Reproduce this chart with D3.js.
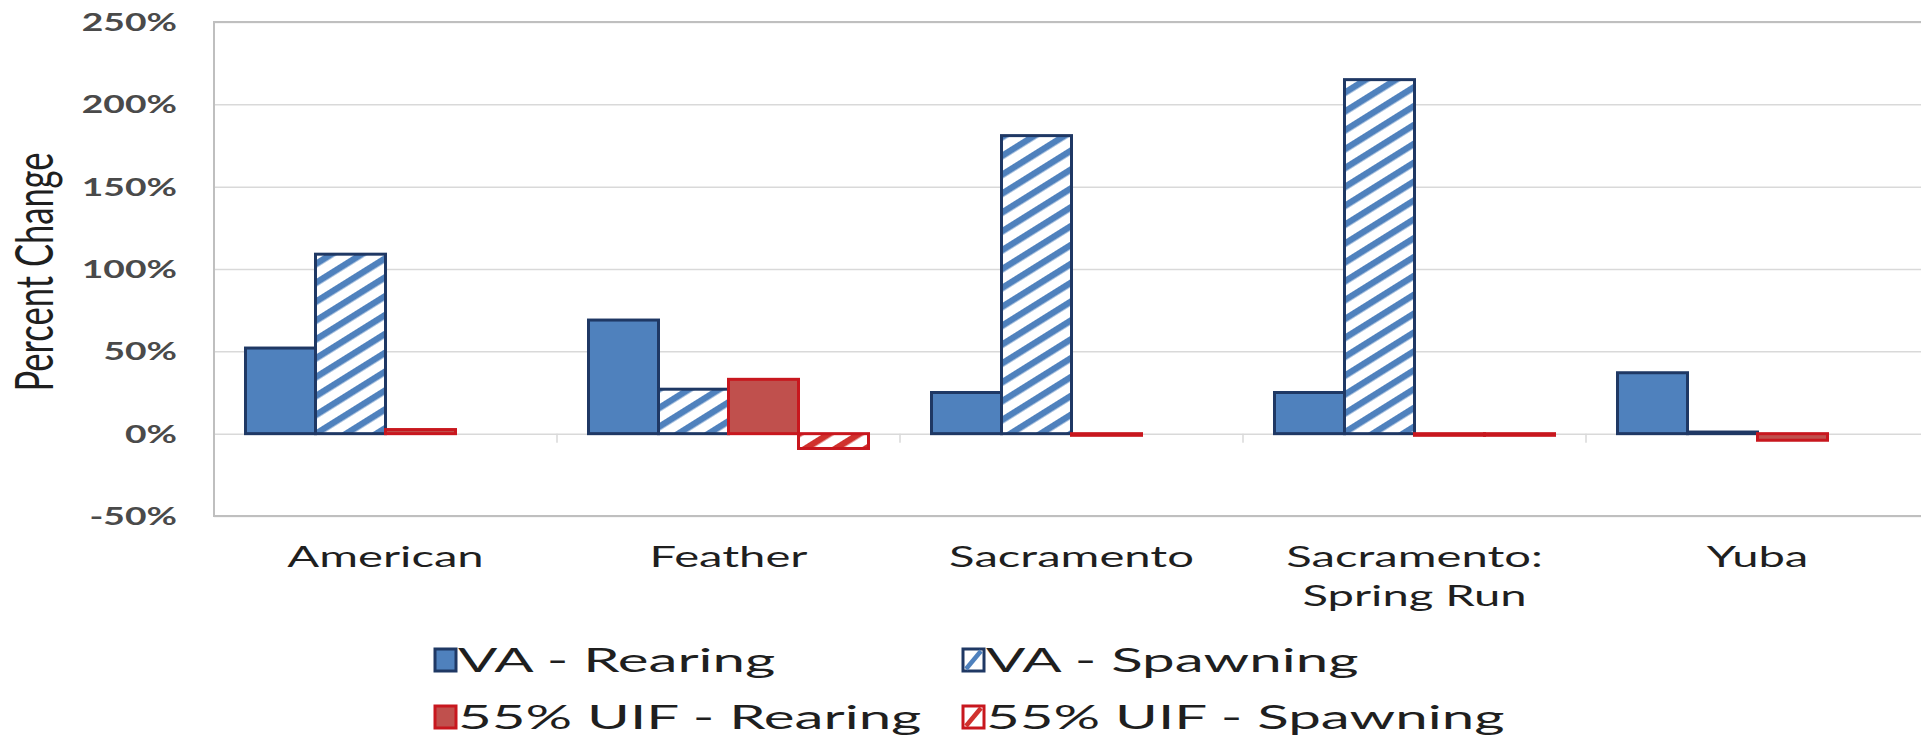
<!DOCTYPE html>
<html>
<head>
<meta charset="utf-8">
<script src="https://cdn.jsdelivr.net/npm/d3@7"></script>
<style>
  html, body { margin: 0; padding: 0; background: #fff; overflow: hidden; }
  text { font-family: Lato, "Open Sans", sans-serif; }
</style>
</head>
<body>
<div id="chart"></div>
<script>
// percent change per river
const rivers = ["American", "Feather", "Sacramento", "Sacramento:\nSpring Run", "Yuba"];
const seriesNames = ["VA - Rearing", "VA - Spawning", "55% UIF - Rearing", "55% UIF - Spawning"];
const vaRearing = [52, 69, 25, 25, 37];
const vaSpawning = [109, 27, 181, 215, 1];
const uifRearing = [2.5, 33, -1, -1, -4];
const uifSpawning = [0, -9, 0, -1, 0];
const yTicks = [-50, 0, 50, 100, 150, 200, 250];

const seriesValues = [vaRearing, vaSpawning, uifRearing, uifSpawning];

const width = 1921;
const height = 739;
const margin = { top: 22, right: -8, bottom: 223, left: 214 };
const innerWidth = width - margin.left - margin.right;
const innerHeight = height - margin.top - margin.bottom;

// the picture is stretched sideways, so text gets stretched too
const kTick = 1.55, kCat = 1.6, kLegend = 1.82, kTitle = 1.5;

const blue = "#4F81BD", navy = "#1F3864", red = "#C0504D", darkRed = "#C8171E";
const styles = [
  { fill: blue, stroke: navy },
  { fill: "url(#hatchBlue)", stroke: navy, stripe: blue },
  { fill: red, stroke: darkRed },
  { fill: "url(#hatchRed)", stroke: darkRed, stripe: "#D0312D" }
];

const svg = d3.select("#chart")
  .append("svg")
  .attr("width", width)
  .attr("height", height);

svg.append("rect").attr("width", width).attr("height", height).attr("fill", "#fff");

// hatch patterns
const defs = svg.append("defs");
function hatch(id, color) {
  const p = defs.append("pattern")
    .attr("id", id)
    .attr("patternUnits", "userSpaceOnUse")
    .attr("width", 20)
    .attr("height", 16)
    .attr("patternTransform", "rotate(-32)");
  p.append("rect").attr("width", 20).attr("height", 16).attr("fill", "#fff");
  p.append("rect").attr("width", 20).attr("height", 6.5).attr("fill", color);
}
hatch("hatchBlue", blue);
hatch("hatchRed", "#D0312D");

const g = svg.append("g")
  .attr("transform", `translate(${margin.left},${margin.top})`);

// scales
const x = d3.scaleBand()
  .domain(rivers)
  .range([0, innerWidth]);

const xSub = d3.scaleBand()
  .domain(d3.range(seriesNames.length))
  .range([0, x.bandwidth()])
  .paddingOuter(0.45);

const y = d3.scaleLinear()
  .domain([-50, 250])
  .range([innerHeight, 0]);

// y axis with gridlines
g.append("g")
  .call(d3.axisLeft(y).tickValues(yTicks).tickSize(-innerWidth).tickFormat(d => d + "%"))
  .call(a => a.select(".domain").remove())
  .call(a => a.selectAll(".tick line").attr("stroke", "#D9D9D9").attr("stroke-width", 1.5))
  .call(a => a.selectAll(".tick text")
    .attr("x", 0)
    .attr("dy", "0.36em")
    .attr("transform", `translate(-37,0) scale(${kTick},1)`)
    .attr("font-size", 24)
    .attr("font-weight", "bold")
    .attr("fill", "#4a4a4a"));

// small category ticks on the zero line
g.append("g")
  .selectAll("line")
  .data(rivers.slice(1))
  .join("line")
  .attr("x1", d => x(d))
  .attr("x2", d => x(d))
  .attr("y1", y(0))
  .attr("y2", y(0) + 9)
  .attr("stroke", "#D9D9D9")
  .attr("stroke-width", 1.5);

// bars
const bars = [];
rivers.forEach((r, i) => {
  seriesValues.forEach((vals, s) => {
    if (vals[i] !== 0) bars.push({ river: r, s, value: vals[i] });
  });
});

g.append("g")
  .selectAll("rect")
  .data(bars)
  .join("rect")
  .attr("x", d => x(d.river) + xSub(d.s))
  .attr("width", xSub.bandwidth())
  .attr("y", d => y(Math.max(0, d.value)))
  .attr("height", d => Math.abs(y(d.value) - y(0)))
  .attr("fill", d => styles[d.s].fill)
  .attr("stroke", d => styles[d.s].stroke)
  .attr("stroke-width", 3);

// plot border
g.append("rect")
  .attr("width", innerWidth)
  .attr("height", innerHeight)
  .attr("fill", "none")
  .attr("stroke", "#BFBFBF")
  .attr("stroke-width", 2);

// category labels
g.append("g")
  .attr("transform", `translate(0,${innerHeight})`)
  .call(d3.axisBottom(x).tickSize(0))
  .call(a => a.select(".domain").remove())
  .call(a => a.selectAll(".tick text")
    .attr("y", 0)
    .attr("dy", 0)
    .attr("transform", `translate(0,51) scale(${kCat},1)`)
    .attr("font-size", 29.5)
    .attr("fill", "#1f1f1f")
    .each(function(d) {
      const t = d3.select(this);
      t.text(null);
      d.split("\n").forEach((line, i) => {
        t.append("tspan").attr("x", 0).attr("dy", i ? "1.33em" : 0).text(line);
      });
    }));

// y axis title
svg.append("text")
  .attr("transform", `translate(53,272) scale(${kTitle},1) rotate(-90)`)
  .attr("text-anchor", "middle")
  .attr("font-size", 34.5)
  .attr("fill", "#1f1f1f")
  .text("Percent Change");

// legend, two columns by two rows
const legend = svg.append("g");
const item = legend.selectAll("g")
  .data(seriesNames)
  .join("g")
  .attr("transform", (d, i) => `translate(${435 + (i % 2) * 528},${649 + Math.floor(i / 2) * 57})`);

item.append("rect")
  .attr("width", 21)
  .attr("height", 22)
  .attr("fill", (d, i) => styles[i].stripe ? "#fff" : styles[i].fill)
  .attr("stroke", (d, i) => styles[i].stroke)
  .attr("stroke-width", 3);

item.filter((d, i) => styles[i].stripe)
  .append("line")
  .attr("x1", 3).attr("y1", 20)
  .attr("x2", 18).attr("y2", 2)
  .attr("stroke", d => styles[seriesNames.indexOf(d)].stripe)
  .attr("stroke-width", 4.5);

item.append("text")
  .attr("transform", `translate(23,23) scale(${kLegend},1)`)
  .attr("font-size", 32)
  .attr("fill", "#1f1f1f")
  .text(d => d);
</script>
</body>
</html>
